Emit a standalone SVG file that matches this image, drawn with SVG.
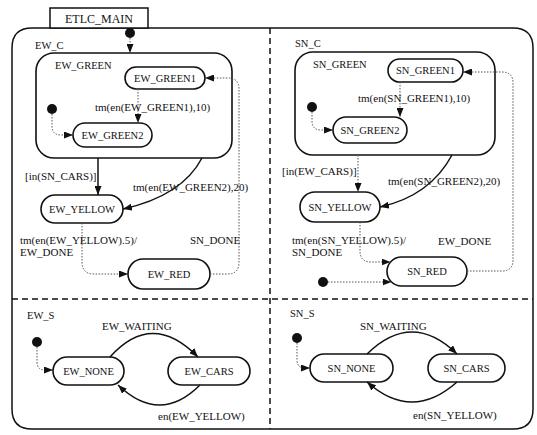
<svg xmlns="http://www.w3.org/2000/svg" width="537" height="435" viewBox="0 0 537 435" font-family="'Liberation Serif', 'Times New Roman', serif">
<style>
.st{font-family:'Liberation Serif',serif;font-size:10.5px;text-anchor:middle;fill:#111}
.lb{font-family:'Liberation Serif',serif;font-size:11px;fill:#111}
.ttl{font-family:'Liberation Serif',serif;font-size:10.5px;fill:#111}
.node{fill:#fff;stroke:#111;stroke-width:1.6}
.box{fill:none;stroke:#111;stroke-width:1.5}
.div{fill:none;stroke:#111;stroke-width:1.5;stroke-dasharray:6 4}
.sol{fill:none;stroke:#111;stroke-width:1.5}
.dot{fill:none;stroke:#555;stroke-width:1;stroke-dasharray:1.5 1.5}
.init{fill:#111}
</style>
<defs>
<marker id="ah" markerUnits="userSpaceOnUse" markerWidth="9" markerHeight="7" refX="9" refY="3.5" orient="auto">
<path d="M0,0 L9,3.5 L0,7 z" fill="#111"/>
</marker>
</defs>

<g id="etlc_main">
<path class="box" d="M32,28 L513,28 Q533,28 533,48 L533,409 Q533,429 513,429 L32,429 Q12,429 12,409 L12,48 Q12,28 32,28 Z"/>
<rect x="50" y="8" width="98" height="20" fill="#fff" stroke="#111" stroke-width="1.5"/>
<text class="st" x="99" y="22.5" style="font-size:12px">ETLC_MAIN</text>
<path class="div" d="M270,28 L270,429"/>
<path class="div" d="M12,299 L533,299"/>
<circle class="init" cx="130" cy="33" r="5"/>
</g>

<g id="ew_c">
<text class="ttl" x="35" y="49">EW_C</text>
</g>
<g id="ew_green">
<rect class="node" x="36" y="53" width="196" height="105" rx="18"/>
<text class="ttl" x="55" y="69">EW_GREEN</text>
<circle class="init" cx="52" cy="109" r="5"/>
</g>
<g id="ew_green1"><rect class="node" x="125" y="67" width="80" height="22" rx="11"/><text class="st" x="165" y="81.5">EW_GREEN1</text></g>
<g id="ew_green2"><rect class="node" x="73" y="123" width="79" height="24" rx="12"/><text class="st" x="112.5" y="138.5">EW_GREEN2</text></g>
<g id="ew_yellow"><rect class="node" x="41" y="195" width="82" height="28" rx="14"/><text class="st" x="82" y="212.5">EW_YELLOW</text></g>
<g id="ew_red"><rect class="node" x="128" y="259" width="82" height="30" rx="15"/><text class="st" x="169" y="277.5">EW_RED</text></g>

<g id="sn_c">
<text class="ttl" x="295" y="47">SN_C</text>
</g>
<g id="sn_green">
<rect class="node" x="295" y="52" width="200" height="103" rx="18"/>
<text class="ttl" x="313" y="68">SN_GREEN</text>
<circle class="init" cx="312" cy="107" r="5"/>
</g>
<g id="sn_green1"><rect class="node" x="388" y="59" width="75" height="23" rx="11.5"/><text class="st" x="425.5" y="74">SN_GREEN1</text></g>
<g id="sn_green2"><rect class="node" x="333" y="117" width="74" height="26" rx="13"/><text class="st" x="370" y="133.5">SN_GREEN2</text></g>
<g id="sn_yellow"><rect class="node" x="300" y="192" width="80" height="30" rx="15"/><text class="st" x="340" y="210.5">SN_YELLOW</text></g>
<g id="sn_red"><rect class="node" x="387" y="257" width="80" height="29" rx="14.5"/><text class="st" x="427" y="275">SN_RED</text><circle class="init" cx="323" cy="282" r="5"/></g>

<g id="ew_s">
<text class="ttl" x="27" y="319">EW_S</text>
<circle class="init" cx="37" cy="342" r="5"/>
</g>
<g id="ew_none"><rect class="node" x="53" y="357" width="71" height="28" rx="14"/><text class="st" x="88.5" y="374.5">EW_NONE</text></g>
<g id="ew_cars"><rect class="node" x="168" y="357" width="82" height="28" rx="14"/><text class="st" x="209" y="374.5">EW_CARS</text></g>

<g id="sn_s">
<text class="ttl" x="290" y="317">SN_S</text>
<circle class="init" cx="297" cy="338" r="5"/>
</g>
<g id="sn_none"><rect class="node" x="310" y="354" width="83" height="28" rx="14"/><text class="st" x="351.5" y="371.5">SN_NONE</text></g>
<g id="sn_cars"><rect class="node" x="428" y="354" width="77" height="28" rx="14"/><text class="st" x="466.5" y="371.5">SN_CARS</text></g>

<g id="connectors">
<path class="dot" d="M130,38 L130,53" marker-end="url(#ah)"/>
<path class="dot" d="M52,114 L52,126 Q52,135 61,135 L73,135" marker-end="url(#ah)"/>
<path class="dot" d="M138,89 L138,123" marker-end="url(#ah)"/>
<path class="sol" d="M98,158 L98,195" marker-end="url(#ah)"/>
<path class="sol" d="M202,158 Q182,196 123,209" marker-end="url(#ah)"/>
<path class="dot" d="M82,223 L82,262 Q82,274 94,274 L128,274" marker-end="url(#ah)"/>
<path class="dot" d="M210,274 L228,274 Q239,274 239,262 L239,89 Q239,78 228,78 L205,78" marker-end="url(#ah)"/>

<path class="dot" d="M312,112 L312,121 Q312,130 321,130 L333,130" marker-end="url(#ah)"/>
<path class="dot" d="M400,82 L400,117" marker-end="url(#ah)"/>
<path class="dot" d="M358,155 L358,192" marker-end="url(#ah)"/>
<path class="sol" d="M452,155 Q430,196 380,207" marker-end="url(#ah)"/>
<path class="dot" d="M360,222 L360,251 Q360,262 371,262 L390.5,262" marker-end="url(#ah)"/>
<path class="dot" d="M328,282 L391.5,282" marker-end="url(#ah)"/>
<path class="dot" d="M467,271 L502,271 Q513,271 513,260 L513,83 Q513,72 502,72 L463,72" marker-end="url(#ah)"/>

<path class="dot" d="M37,347 L37,362 Q37,370 45,370 L53,370" marker-end="url(#ah)"/>
<path class="sol" d="M110,357 Q152,310 198,357" marker-end="url(#ah)"/>
<path class="sol" d="M200,385 Q160,425 118,385" marker-end="url(#ah)"/>

<path class="dot" d="M297,343 L297,360 Q297,368 305,368 L310,368" marker-end="url(#ah)"/>
<path class="sol" d="M367,354 Q412,310 457,354" marker-end="url(#ah)"/>
<path class="sol" d="M457,382 Q412,422 367,382" marker-end="url(#ah)"/>

<text class="lb" x="95" y="111">tm(en(EW_GREEN1),10)</text>
<text class="lb" x="25" y="180">[in(SN_CARS)]</text>
<text class="lb" x="133" y="191">tm(en(EW_GREEN2),20)</text>
<text class="lb" x="20" y="244">tm(en(EW_YELLOW).5)/</text>
<text class="lb" x="20" y="256">EW_DONE</text>
<text class="lb" x="190" y="244">SN_DONE</text>

<text class="lb" x="358" y="102">tm(en(SN_GREEN1),10)</text>
<text class="lb" x="282" y="175">[in(EW_CARS)]</text>
<text class="lb" x="388" y="185">tm(en(SN_GREEN2),20)</text>
<text class="lb" x="292" y="244">tm(en(SN_YELLOW).5)/</text>
<text class="lb" x="292" y="256">SN_DONE</text>
<text class="lb" x="438" y="245">EW_DONE</text>

<text class="lb" x="102" y="330">EW_WAITING</text>
<text class="lb" x="158" y="420">en(EW_YELLOW)</text>
<text class="lb" x="360" y="330">SN_WAITING</text>
<text class="lb" x="413" y="419">en(SN_YELLOW)</text>
</g>
</svg>
